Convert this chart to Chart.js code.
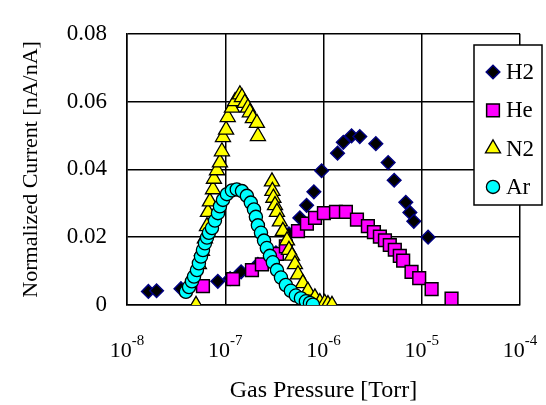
<!DOCTYPE html>
<html><head><meta charset="utf-8">
<script src="https://cdn.jsdelivr.net/npm/chart.js@4/dist/chart.umd.min.js"></script>
<style>html,body{margin:0;padding:0;background:#fff;} canvas{display:block;}</style>
</head><body>
<canvas id="c" width="546" height="405"></canvas>
<script>
// ---- data ----
const seriesNames = ['H2', 'He', 'N2', 'Ar'];

const h2X = [1.65e-8, 2.0e-8, 3.54e-8, 8.4e-8, 1.12e-7, 1.45e-7, 2.15e-7, 3.28e-7, 4.45e-7, 5.75e-7, 6.73e-7, 7.98e-7, 9.57e-7, 1.39e-6, 1.59e-6, 1.93e-6, 2.34e-6, 3.41e-6, 4.55e-6, 5.24e-6, 6.88e-6, 7.57e-6, 8.3e-6, 1.16e-5];
const h2Y = [0.0040, 0.0042, 0.0048, 0.0070, 0.0078, 0.0098, 0.0120, 0.0154, 0.0210, 0.0257, 0.0294, 0.0334, 0.0396, 0.0448, 0.0480, 0.0499, 0.0497, 0.0476, 0.0420, 0.0368, 0.0303, 0.0273, 0.0247, 0.0200];

const heX = [5.93e-8, 1.2e-7, 1.87e-7, 2.36e-7, 3.36e-7, 4.14e-7, 5.5e-7, 6.78e-7, 8.2e-7, 1.01e-6, 1.34e-6, 1.69e-6, 2.19e-6, 2.83e-6, 3.26e-6, 3.75e-6, 4.22e-6, 4.73e-6, 5.32e-6, 5.98e-6, 6.47e-6, 7.87e-6, 9.42e-6, 1.26e-5, 2.01e-5];
const heY = [0.0056, 0.0076, 0.0103, 0.0120, 0.0151, 0.0173, 0.0218, 0.0240, 0.0257, 0.0271, 0.0275, 0.0275, 0.0252, 0.0233, 0.0215, 0.0202, 0.0191, 0.0177, 0.0163, 0.0145, 0.0131, 0.0098, 0.0079, 0.0047, 0.0019];

const n2X = [5.04e-8, 5.39e-8, 5.79e-8, 6.21e-8, 6.52e-8, 6.67e-8, 6.98e-8, 7.50e-8, 7.67e-8, 8.24e-8, 8.83e-8, 9.25e-8, 9.48e-8, 1.02e-7, 1.06e-7, 1.17e-7, 1.26e-7, 1.41e-7, 1.48e-7, 1.58e-7, 1.70e-7, 1.78e-7, 1.91e-7, 2.10e-7, 2.15e-7,
             2.99e-7, 3.02e-7, 3.09e-7, 3.21e-7, 3.36e-7, 3.60e-7, 3.86e-7, 4.25e-7, 4.45e-7, 4.78e-7, 5.12e-7, 5.50e-7, 6.17e-7, 6.93e-7, 8.18e-7, 9.18e-7, 1.03e-6, 1.11e-6, 1.22e-6];
const n2Y = [0.0000, 0.0120, 0.0159, 0.0196, 0.0232, 0.0274, 0.0305, 0.0341, 0.0372, 0.0397, 0.0420, 0.0453, 0.0495, 0.0517, 0.0554, 0.0582, 0.0601, 0.0621, 0.0613, 0.0596, 0.0582, 0.0568, 0.0551, 0.0537, 0.0498,
             0.0364, 0.0336, 0.0316, 0.0294, 0.0274, 0.0246, 0.0218, 0.0190, 0.0162, 0.0145, 0.0120, 0.0090, 0.0064, 0.0042, 0.0022, 0.0008, 0.0006, 0.0002, 0.0000];

const arX = [3.98e-8, 4.28e-8, 4.58e-8, 4.81e-8, 5.15e-8, 5.39e-8, 5.66e-8, 5.93e-8, 6.21e-8, 6.52e-8, 6.82e-8, 7.33e-8, 7.85e-8, 8.43e-8, 8.83e-8, 9.48e-8, 1.04e-7, 1.17e-7, 1.31e-7, 1.48e-7, 1.66e-7, 1.82e-7, 1.96e-7, 2.05e-7, 2.15e-7, 2.31e-7, 2.48e-7, 2.65e-7, 2.85e-7, 3.05e-7, 3.36e-7, 3.69e-7, 4.14e-7, 4.65e-7, 5.23e-7, 5.89e-7, 6.62e-7, 7.28e-7, 7.80e-7];
const arY = [0.0039, 0.0053, 0.0070, 0.0084, 0.0103, 0.0123, 0.0143, 0.0162, 0.0182, 0.0199, 0.0213, 0.0227, 0.0249, 0.0271, 0.0291, 0.0310, 0.0327, 0.0338, 0.0341, 0.0336, 0.0322, 0.0302, 0.0282, 0.0260, 0.0235, 0.0213, 0.0190, 0.0168, 0.0145, 0.0126, 0.0103, 0.0081, 0.0059, 0.0042, 0.0028, 0.0020, 0.0011, 0.0006, 0.0001];

const yTickValues = [0, 0.02, 0.04, 0.06, 0.08];
const yTickLabels = ['0', '0.02', '0.04', '0.06', '0.08'];
const xTickExponents = [-8, -7, -6, -5, -4];
const xTitle = 'Gas Pressure [Torr]';
const yTitle = 'Normalized Current [nA/nA]';

// ---- styles ----
const FONT = '"Liberation Serif", "Times New Roman", serif';
const styles = [
  {pointStyle: 'rectRot', radius: 6.8, bg: '#000000', border: '#000080', bw: 1.5},
  {pointStyle: 'rect', radius: 9, bg: '#FF00FF', border: '#000000', bw: 1.5},
  {pointStyle: 'triangle', radius: 8.7, bg: '#FFFF00', border: '#000000', bw: 1.3},
  {pointStyle: 'circle', radius: 6.6, bg: '#00FFFF', border: '#000000', bw: 1.3}
];
const xsArr = [h2X, heX, n2X, arX];
const ysArr = [h2Y, heY, n2Y, arY];

const datasets = seriesNames.map((name, i) => ({
  label: name,
  data: xsArr[i].map((x, j) => ({x: x, y: ysArr[i][j]})),
  pointStyle: styles[i].pointStyle,
  pointRadius: styles[i].radius,
  pointBackgroundColor: styles[i].bg,
  pointBorderColor: styles[i].border,
  pointBorderWidth: styles[i].bw,
  showLine: false,
  order: seriesNames.length - i
}));

const expLabels = {
  id: 'expLabels',
  afterDraw(chart) {
    const ctx = chart.ctx, xs = chart.scales.x;
    ctx.save();
    ctx.fillStyle = '#000';
    ctx.textAlign = 'left';
    ctx.textBaseline = 'alphabetic';
    xTickExponents.forEach(e => {
      const px = xs.getPixelForValue(Math.pow(10, e));
      ctx.font = '22px ' + FONT;
      const w1 = ctx.measureText('10').width;
      ctx.font = '15px ' + FONT;
      const es = String(e);
      const w2 = ctx.measureText(es).width;
      const start = px - (w1 + w2) / 2;
      ctx.font = '22px ' + FONT;
      ctx.fillText('10', start, xs.top + 52);
      ctx.font = '15px ' + FONT;
      ctx.fillText(es, start + w1, xs.top + 40);
    });
    ctx.restore();
  }
};

const customLegend = {
  id: 'customLegend',
  afterDraw(chart) {
    const ctx = chart.ctx;
    const bx = 474, by = 45, bw = 68, bh = 160;
    ctx.save();
    ctx.fillStyle = '#fff';
    ctx.fillRect(bx, by, bw, bh);
    ctx.strokeStyle = '#000';
    ctx.lineWidth = 1.5;
    ctx.strokeRect(bx, by, bw, bh);
    ctx.font = '23px ' + FONT;
    ctx.textBaseline = 'middle';
    ctx.textAlign = 'left';
    seriesNames.forEach((name, i) => {
      const cy = 72 + i * 38.3;
      const st = styles[i];
      ctx.fillStyle = st.bg;
      ctx.strokeStyle = st.border;
      ctx.lineWidth = st.bw;
      Chart.helpers.drawPoint(ctx, {pointStyle: st.pointStyle, radius: st.radius, borderWidth: st.bw, rotation: 0}, 493, cy);
      ctx.fillStyle = '#000';
      ctx.fillText(name, 506, cy + 1);
    });
    ctx.restore();
  }
};

new Chart(document.getElementById('c'), {
  type: 'scatter',
  data: {datasets: datasets},
  options: {
    responsive: false,
    devicePixelRatio: 1,
    animation: false,
    events: [],
    layout: {padding: {left: 0, top: 19, right: 26, bottom: 0}},
    plugins: {legend: {display: false}, tooltip: {enabled: false}},
    scales: {
      x: {
        type: 'logarithmic',
        min: 1e-8, max: 1e-4,
        afterBuildTicks: s => { s.ticks = xTickExponents.map(e => ({value: Math.pow(10, e), major: true})); },
        afterFit: s => { s.height = 100; },
        ticks: {display: false},
        grid: {color: '#000', lineWidth: 1.5, drawTicks: false},
        border: {color: '#000', width: 1.5},
        title: {display: true, text: xTitle, color: '#000', font: {family: FONT, size: 24}, padding: {top: 0, bottom: 0}}
      },
      y: {
        min: 0, max: 0.08,
        afterBuildTicks: s => { s.ticks = yTickValues.map(v => ({value: v})); },
        afterFit: s => { s.width = 127; },
        ticks: {
          color: '#000', font: {family: FONT, size: 23}, padding: 20,
          callback: (v, idx) => yTickLabels[idx]
        },
        grid: {color: '#000', lineWidth: 1.5, drawTicks: false},
        border: {color: '#000', width: 1.5},
        title: {display: true, text: yTitle, color: '#000', font: {family: FONT, size: 22}, padding: {top: 18, bottom: 0}}
      }
    }
  },
  plugins: [expLabels, customLegend]
});
</script>
</body></html>
